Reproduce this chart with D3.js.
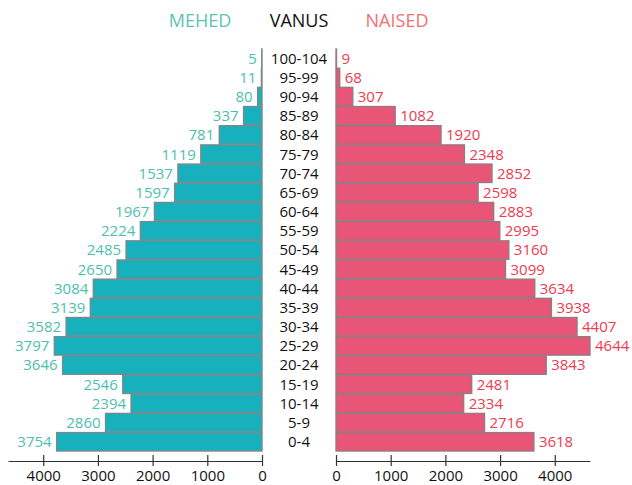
<!DOCTYPE html>
<html>
    <head>
        <meta charset="utf-8">
        <title>Population pyramid</title>
        <script src="https://d3js.org/d3.v7.min.js"></script>
        <style>
         html, body {
             margin: 0;
             background-color: white;
         }
         svg text {
             font-family: "Open Sans", sans-serif;
         }
         .plot-axis path, .plot-axis line {
             stroke: #333;
         }
         .plot-axis text {
             fill: #111;
             font-size: 15px;
         }
        </style>
    </head>
    <body>
        <div id="plot"></div>
        <script>
         // age groups, bottom to top
         const ages = ["0-4", "5-9", "10-14", "15-19", "20-24", "25-29", "30-34", "35-39",
                       "40-44", "45-49", "50-54", "55-59", "60-64", "65-69", "70-74",
                       "75-79", "80-84", "85-89", "90-94", "95-99", "100-104"]
         const men   = [3754, 2860, 2394, 2546, 3646, 3797, 3582, 3139, 3084, 2650, 2485,
                        2224, 1967, 1597, 1537, 1119, 781, 337, 80, 11, 5]
         const women = [3618, 2716, 2334, 2481, 3843, 4644, 4407, 3938, 3634, 3099, 3160,
                        2995, 2883, 2598, 2852, 2348, 1920, 1082, 307, 68, 9]
         const axisTicks = [0, 1000, 2000, 3000, 4000]

         const width = 632, height = 485
         const svg = d3.select("#plot")
                       .append("svg")
                       .attr("width", width)
                       .attr("height", height)

         const maxVal = d3.max(men.concat(women))

         // left side grows to the left, right side to the right
         const xLeft = d3.scaleLinear().domain([0, maxVal]).range([262, 8])
         const xRight = d3.scaleLinear().domain([0, maxVal]).range([336, 590])
         const y = d3.scaleBand()
                     .domain(ages.slice().reverse())
                     .range([49, 451])
                     .paddingInner(0.04)

         const rows = ages.map((a, i) => ({age: a, men: men[i], women: women[i]}))

         // headers
         const heads = [
             {text: "MEHED", x: 200, color: "#5cc4b2"},
             {text: "VANUS", x: 299, color: "#111"},
             {text: "NAISED", x: 397, color: "#f07070"}
         ]
         svg.selectAll(".head")
            .data(heads)
            .enter().append("text")
            .attr("class", "head")
            .attr("x", d => d.x)
            .attr("y", 27)
            .attr("text-anchor", "middle")
            .attr("font-size", "18px")
            .attr("fill", d => d.color)
            .text(d => d.text)

         // bars
         svg.selectAll(".bar-men")
            .data(rows)
            .enter().append("rect")
            .attr("class", "bar-men")
            .attr("x", d => xLeft(d.men))
            .attr("y", d => y(d.age))
            .attr("width", d => xLeft(0) - xLeft(d.men))
            .attr("height", y.bandwidth())
            .attr("fill", "#17b1bd")
            .attr("stroke", "#7a8a8c")
            .attr("stroke-width", 1.4)

         svg.selectAll(".bar-women")
            .data(rows)
            .enter().append("rect")
            .attr("class", "bar-women")
            .attr("x", xRight(0))
            .attr("y", d => y(d.age))
            .attr("width", d => xRight(d.women) - xRight(0))
            .attr("height", y.bandwidth())
            .attr("fill", "#e85577")
            .attr("stroke", "#967a82")
            .attr("stroke-width", 1.4)

         // value labels
         svg.selectAll(".lab-men")
            .data(rows)
            .enter().append("text")
            .attr("class", "lab-men")
            .attr("x", d => xLeft(d.men) - 5)
            .attr("y", d => y(d.age) + y.bandwidth() / 2)
            .attr("dy", "0.36em")
            .attr("text-anchor", "end")
            .attr("font-size", "15px")
            .attr("fill", "#4dbfad")
            .text(d => d.men)

         svg.selectAll(".lab-women")
            .data(rows)
            .enter().append("text")
            .attr("class", "lab-women")
            .attr("x", d => xRight(d.women) + 5)
            .attr("y", d => y(d.age) + y.bandwidth() / 2)
            .attr("dy", "0.36em")
            .attr("font-size", "15px")
            .attr("fill", "#ee3b50")
            .text(d => d.women)

         // age labels in the middle
         svg.selectAll(".lab-age")
            .data(rows)
            .enter().append("text")
            .attr("class", "lab-age")
            .attr("x", 299)
            .attr("y", d => y(d.age) + y.bandwidth() / 2)
            .attr("dy", "0.36em")
            .attr("text-anchor", "middle")
            .attr("font-size", "15px")
            .attr("fill", "#111")
            .text(d => d.age)

         // axes, ticks cross the line
         const drawAxis = (scale) => {
             const g = svg.append("g")
                          .attr("class", "plot-axis")
                          .attr("transform", "translate(0,461)")
                          .call(d3.axisBottom(scale)
                                  .tickValues(axisTicks)
                                  .tickFormat(d3.format("d"))
                                  .tickSizeOuter(0)
                                  .tickSizeInner(5)
                                  .tickPadding(4))
             g.selectAll(".tick line").attr("y1", -6).attr("stroke-width", 1.2)
             g.select(".domain").attr("stroke-width", 1.2)
             g.attr("font-family", null).attr("font-size", null)
         }
         drawAxis(xLeft)
         drawAxis(xRight)
        </script>
    </body>
</html>
